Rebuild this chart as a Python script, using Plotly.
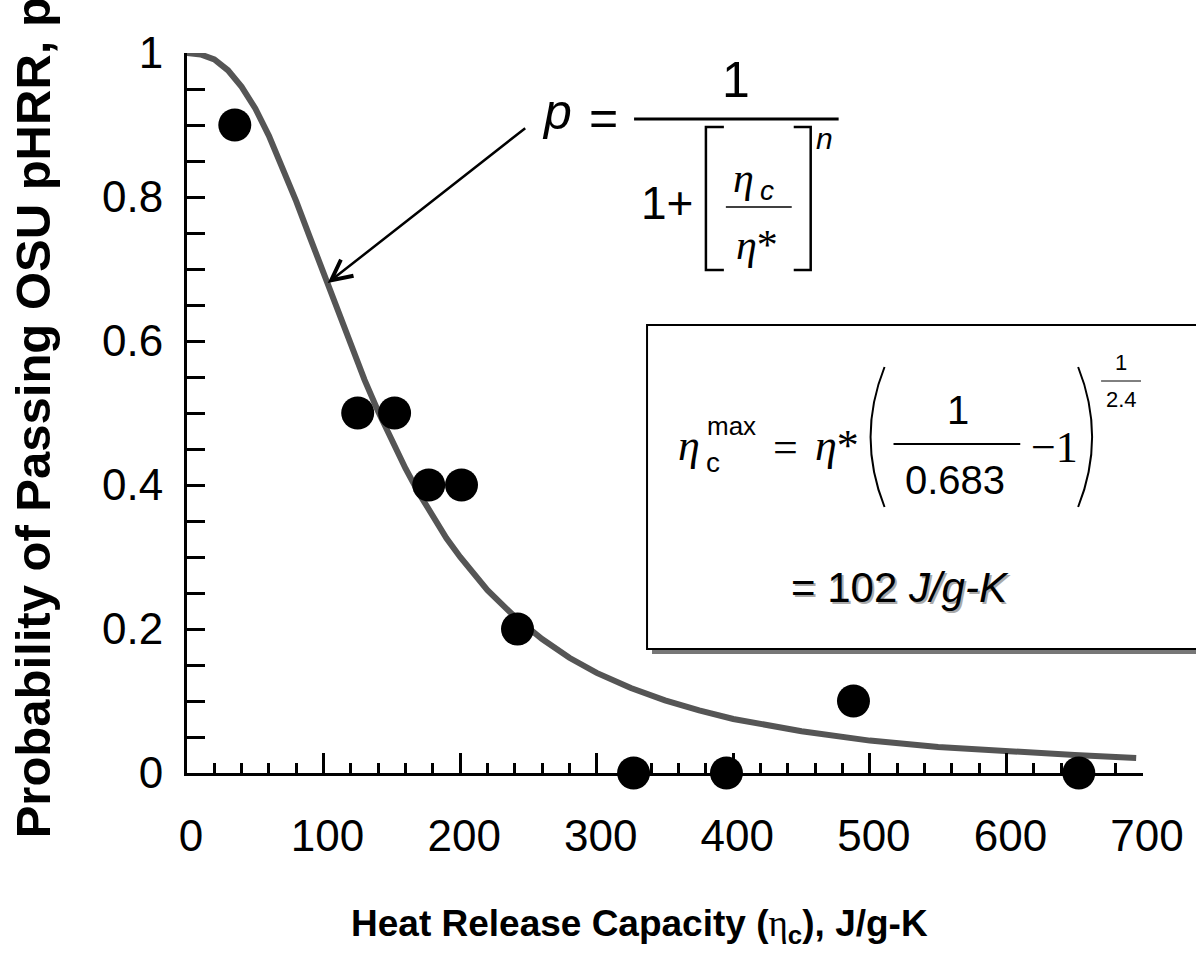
import plotly.graph_objects as go

# ---- data ----
eta_obs = [35, 125, 152, 177, 201, 242, 327, 395, 488, 653]
p_obs = [0.9, 0.5, 0.5, 0.4, 0.4, 0.2, 0.0, 0.0, 0.1, 0.0]

eta_fit = [0, 10, 20, 30, 40, 50, 60, 70, 80, 90, 100, 110, 120, 130, 140, 150, 160,
           170, 180, 190, 200, 220, 240, 260, 280, 300, 325, 350, 375, 400, 450, 500,
           550, 600, 650, 695]
p_fit = [1.0, 0.998, 0.991, 0.976, 0.953, 0.923, 0.885, 0.842, 0.794, 0.744, 0.693,
         0.643, 0.594, 0.546, 0.502, 0.461, 0.423, 0.388, 0.356, 0.326, 0.300, 0.254,
         0.217, 0.186, 0.160, 0.139, 0.118, 0.101, 0.087, 0.075, 0.058, 0.045, 0.036,
         0.030, 0.025, 0.021]

x_ticks = [0, 100, 200, 300, 400, 500, 600, 700]
y_ticks = [0, 0.2, 0.4, 0.6, 0.8, 1]
y_ticktext = ["0", "0.2", "0.4", "0.6", "0.8", "1"]

W, H = 1196, 975
L, R, T, B = 187, 51, 53, 202
PW, PH = W - L - R, H - T - B

SANS = "Liberation Sans"
SERIF = "Liberation Serif"


def px(x):
    return (x - L) / PW


def py(y):
    return (H - B - y) / PH


fig = go.Figure()
fig.add_trace(go.Scatter(x=eta_fit, y=p_fit, mode="lines",
                         line=dict(color="#555555", width=6),
                         cliponaxis=False, showlegend=False, hoverinfo="skip"))
fig.add_trace(go.Scatter(x=eta_obs, y=p_obs, mode="markers",
                         marker=dict(color="black", size=33, line=dict(width=0)),
                         cliponaxis=False, showlegend=False))

shapes = []
annotations = []


def text(t, x, y, size, family=SANS, color="black", xanchor="center", yanchor="middle", **kw):
    annotations.append(dict(text=t, x=px(x), y=py(y), xref="paper", yref="paper",
                            showarrow=False, xanchor=xanchor, yanchor=yanchor,
                            font=dict(size=size, family=family, color=color), **kw))


def line(x0, y0, x1, y1, w=2, color="black"):
    shapes.append(dict(type="line", xref="paper", yref="paper",
                       x0=px(x0), y0=py(y0), x1=px(x1), y1=py(y1),
                       line=dict(color=color, width=w), layer="above"))


# ---- box with shadow ----
shapes.append(dict(type="rect", xref="paper", yref="paper",
                   x0=px(653), y0=py(654), x1=px(1205), y1=py(330),
                   fillcolor="#777777", line=dict(width=0), layer="above"))
shapes.append(dict(type="rect", xref="paper", yref="paper",
                   x0=px(648), y0=py(649), x1=px(1205), y1=py(325),
                   fillcolor="white", line=dict(color="black", width=2), layer="above"))

# ---- equation 1: p = 1 / (1 + [eta_c/eta*]^n) ----
text("<i>p</i>", 558, 112, 50)
text("=", 604, 118, 50)
line(635, 119, 840, 119, 3)
text("1", 737, 80, 50)
text("1+", 668, 203, 46)
shapes.append(dict(type="path", xref="paper", yref="paper",
                   path=f"M {px(725)},{py(127)} L {px(707)},{py(127)} L {px(707)},{py(270)} L {px(725)},{py(270)}",
                   line=dict(color="black", width=2.5), layer="above"))
shapes.append(dict(type="path", xref="paper", yref="paper",
                   path=f"M {px(795)},{py(127)} L {px(812)},{py(127)} L {px(812)},{py(270)} L {px(795)},{py(270)}",
                   line=dict(color="black", width=2.5), layer="above"))
text("<i>n</i>", 826, 138, 30)
text("<i>η</i>", 745, 178, 42, family=SERIF)
text("<i>c</i>", 768, 190, 28)
line(727, 207, 793, 207, 1.5)
text("<i>η</i>*", 758, 245, 42, family=SERIF)

# arrow
annotations.append(dict(x=px(328), y=py(283), xref="paper", yref="paper", text="",
                        showarrow=True, ax=527 - 328, ay=127 - 283, axref="pixel", ayref="pixel",
                        arrowhead=5, arrowsize=1.6, arrowwidth=2.5, arrowcolor="black"))

# ---- box equation ----
text("<i>η</i>", 690, 445, 44, family=SERIF)
text("c", 714, 462, 28)
text("max", 733, 426, 26)
text("=", 787, 447, 44, family=SERIF)
text("<i>η</i>*", 838, 445, 44, family=SERIF)
shapes.append(dict(type="path", xref="paper", yref="paper",
                   path=f"M {px(886)},{py(367)} Q {px(858)},{py(437)} {px(886)},{py(507)}",
                   line=dict(color="black", width=2), layer="above"))
shapes.append(dict(type="path", xref="paper", yref="paper",
                   path=f"M {px(1080)},{py(367)} Q {px(1108)},{py(437)} {px(1080)},{py(507)}",
                   line=dict(color="black", width=2), layer="above"))
text("1", 960, 410, 40)
line(895, 444, 1022, 444, 2)
text("0.683", 957, 480, 40)
text("−1", 1056, 447, 44, family=SERIF)
text("1", 1123, 362, 22)
line(1103, 381, 1143, 381, 1)
text("2.4", 1123, 400, 22)
text("= 102 <i>J/g-K</i>", 903, 589, 42, color="#aaaaaa")
text("= 102 <i>J/g-K</i>", 901, 587, 42)

# ---- axis titles ----
text("<b>Probability of Passing OSU pHRR, p</b>", 33, 418, 49, textangle=-90)
text("<b>Heat Release Capacity (</b><span style='font-family:Liberation Serif'>η</span><b><sub>c</sub>), J/g-K</b>",
     640, 926, 37)

fig.update_layout(
    width=W, height=H,
    margin=dict(l=L, r=R, t=T, b=B, pad=0),
    paper_bgcolor="white", plot_bgcolor="white",
    font=dict(family=SANS, color="black", size=44),
    shapes=shapes, annotations=annotations,
    xaxis=dict(range=[0, 700], tickvals=x_ticks, showline=True, linecolor="black", linewidth=3,
               ticks="inside", ticklen=20, tickwidth=2.5, tickcolor="black",
               minor=dict(ticks="inside", ticklen=10, tickwidth=2.5, dtick=20, tickcolor="black", showgrid=False),
               showgrid=False, zeroline=False, ticklabelstandoff=22, ticklabelshift=4,
               tickfont=dict(size=44, family=SANS)),
    yaxis=dict(range=[0, 1], tickvals=y_ticks, ticktext=y_ticktext, showline=True, linecolor="black",
               linewidth=3, ticks="inside", ticklen=18, tickwidth=2.5, tickcolor="black",
               minor=dict(ticks="inside", ticklen=18, tickwidth=2.5, dtick=0.05, tickcolor="black", showgrid=False),
               showgrid=False, zeroline=False, ticklabelstandoff=12,
               tickfont=dict(size=44, family=SANS)),
)

fig.write_html("out.html")
